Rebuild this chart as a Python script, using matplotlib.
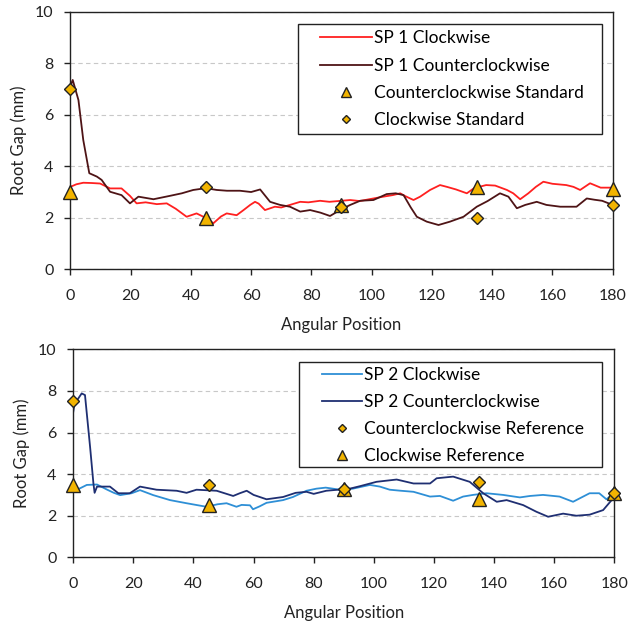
import numpy as np
import matplotlib
matplotlib.use("Agg")
from matplotlib import pyplot as plt
from matplotlib.patches import Rectangle

plt.rcParams['font.family'] = ['Lato', 'DejaVu Sans']

# ---- SP 1 (top panel) ----
sp1_cw_x = [0, 2, 4.3, 7, 9.9, 13.2, 17, 19.8, 22, 25, 28.7, 32, 35, 38.6, 41.9, 44, 47.5, 50,
            51.9, 55.2, 57.5, 59.7, 61.3, 62.5, 64.6, 67.9, 70, 72.9, 76.3, 79, 82.9, 86, 89,
            92.9, 96, 100.6, 103.9, 107, 109.5, 111, 113.9, 116.1, 119.4, 122.7, 125, 128,
            131.6, 134, 138, 141, 144.9, 147, 149.3, 152, 154.5, 157, 160, 164.6, 167, 169.2,
            172.5, 176, 180]
sp1_cw_y = [3.2, 3.3, 3.36, 3.35, 3.33, 3.14, 3.14, 2.85, 2.56, 2.6, 2.53, 2.56, 2.35, 2.04, 2.17,
            2.05, 1.79, 2.05, 2.17, 2.1, 2.3, 2.5, 2.62, 2.55, 2.3, 2.43, 2.4, 2.5, 2.62, 2.6,
            2.66, 2.62, 2.65, 2.69, 2.65, 2.75, 2.82, 2.88, 2.95, 2.85, 2.69, 2.82, 3.08, 3.27,
            3.2, 3.1, 2.95, 3.15, 3.27, 3.25, 3.08, 2.95, 2.72, 2.95, 3.2, 3.4, 3.32, 3.27, 3.2,
            3.08, 3.34, 3.17, 3.17]

sp1_ccw_x = [0, 0.8, 2.7, 4.3, 6.3, 8.8, 10.4, 13.2, 17, 19.8, 22.6, 27.6, 33, 37, 40.8, 45,
             48.6, 52, 56.3, 60, 63, 66.3, 69.6, 72.9, 76.3, 79.6, 83, 86.2, 89.5, 92.9, 96.2,
             100.6, 105, 108, 110.6, 113, 115, 118.3, 122.2, 126, 130.5, 134.9, 138.5, 142.6,
             145.4, 148.2, 151, 154.8, 158, 162.6, 168, 171.4, 174, 176.5, 180]
sp1_ccw_y = [7.1, 7.35, 6.57, 5.02, 3.73, 3.6, 3.47, 3.01, 2.88, 2.56, 2.82, 2.72, 2.85, 2.95,
             3.08, 3.15, 3.08, 3.05, 3.05, 3.0, 3.1, 2.62, 2.5, 2.43, 2.24, 2.3, 2.2, 2.07, 2.3,
             2.5, 2.66, 2.69, 2.92, 2.95, 2.88, 2.4, 2.04, 1.85, 1.72, 1.85, 2.04, 2.43, 2.65,
             2.95, 2.82, 2.37, 2.5, 2.62, 2.5, 2.43, 2.43, 2.75, 2.7, 2.66, 2.5]

sp1_std_x = [0, 45, 90, 135, 180]
sp1_ccw_std = [3.0, 2.0, 2.5, 3.2, 3.1]   # triangles
sp1_cw_std = [7.0, 3.2, 2.4, 2.0, 2.5]    # diamonds

# ---- SP 2 (bottom panel) ----
sp2_cw_x = [0, 2, 4.5, 7.9, 11.3, 13.5, 15.6, 19.4, 22.2, 26.6, 32.2, 37.7, 44.3, 48, 51, 54.3,
            56, 58.8, 59.8, 62, 64.3, 69.8, 73.1, 77.6, 80.9, 84, 88.7, 93, 98.7, 102, 105.3,
            109, 113.2, 118.7, 122, 126.4, 129.7, 133, 137.5, 143, 148.6, 152, 156.3, 161.8,
            166.3, 171.8, 175, 177.4, 180]
sp2_cw_y = [3.23, 3.3, 3.48, 3.5, 3.25, 3.1, 2.99, 3.08, 3.23, 2.99, 2.75, 2.6, 2.43, 2.55, 2.6,
            2.43, 2.52, 2.5, 2.31, 2.45, 2.62, 2.75, 2.9, 3.2, 3.3, 3.35, 3.25, 3.3, 3.48, 3.4,
            3.25, 3.2, 3.15, 2.92, 2.95, 2.72, 2.92, 3.0, 3.08, 3.0, 2.88, 2.95, 3.0, 2.92,
            2.67, 3.08, 3.08, 2.79, 3.1]

sp2_ccw_x = [0, 0.5, 1.5, 2.8, 3.9, 5.6, 6.7, 7.1, 7.9, 12.2, 15, 18.8, 22.2, 27.7, 34.4, 37.7,
             41, 47.7, 53.2, 55.4, 57.7, 60, 64.3, 69.8, 74, 77.6, 80, 84.2, 92, 95.4, 100.9,
             107.6, 113.2, 118.7, 120.9, 126.4, 131.9, 136.4, 140.9, 144.2, 149.7, 154.1, 158,
             163, 167.4, 171.8, 176.3, 179.6, 180]
sp2_ccw_y = [7.0, 7.45, 7.6, 7.88, 7.8, 5.3, 3.56, 3.1, 3.4, 3.4, 3.08, 3.08, 3.4, 3.25, 3.2,
             3.1, 3.25, 3.2, 2.95, 3.08, 3.2, 3.0, 2.79, 2.9, 3.1, 3.15, 3.05, 3.2, 3.3, 3.42,
             3.63, 3.74, 3.55, 3.55, 3.8, 3.88, 3.63, 3.08, 2.67, 2.75, 2.51, 2.19, 1.95, 2.1,
             2.0, 2.05, 2.27, 2.83, 3.0]

sp2_ref_x = [0, 45, 90, 135, 180]
sp2_ccw_ref = [7.5, 3.5, 3.3, 3.6, 3.1]   # diamonds
sp2_cw_ref = [3.5, 2.5, 3.3, 2.8, 3.1]    # triangles

gold = '#F2B400'
ink = '#222222'

fig = plt.figure(figsize=(6.3, 6.25), dpi=100)
ax1 = fig.add_axes([0.1116, 0.5691, 0.8609, 0.4122])
ax2 = fig.add_axes([0.1163, 0.1083, 0.8587, 0.3328])


def style_axes(ax):
    ax.set_xlim(0, 180)
    ax.set_ylim(0, 10)
    ax.set_xticks(np.arange(0, 181, 20))
    ax.set_yticks(np.arange(0, 11, 2))
    ax.yaxis.grid(True, color='#C8C8C8', linestyle=(0, (4, 3)), linewidth=0.8)
    ax.set_axisbelow(True)
    for s in ax.spines.values():
        s.set_color(ink)
        s.set_linewidth(1.0)
    ax.tick_params(direction='out', length=4, width=1, color=ink,
                   labelsize=11.5, labelcolor=ink)
    ax.tick_params(axis='x', pad=10)
    ax.tick_params(axis='y', pad=8)
    ax.set_xlabel('Angular Position', fontsize=12, color=ink, labelpad=10)
    ax.set_ylabel('Root Gap (mm)', fontsize=12, color=ink, labelpad=6)


def boxed_legend(ax, box, anchor, spacing, hlen):
    # frame drawn separately so its padding can match the original
    ax.add_patch(Rectangle(box[:2], box[2], box[3], transform=ax.transAxes,
                           facecolor='white', edgecolor=ink, lw=1.0, zorder=8))
    leg = ax.legend(loc='upper left', bbox_to_anchor=anchor, fontsize=12.5, frameon=False,
                    handlelength=hlen, labelspacing=spacing, borderpad=0, borderaxespad=0,
                    handletextpad=0.1, markerscale=0.75)
    leg.set_zorder(9)
    return leg


style_axes(ax1)
ax1.plot(sp1_cw_x, sp1_cw_y, color='#FF2020', lw=1.3, label='SP 1 Clockwise')
ax1.plot(sp1_ccw_x, sp1_ccw_y, color='#4E1416', lw=1.3, label='SP 1 Counterclockwise')
ax1.plot(sp1_std_x, sp1_ccw_std, ls='none', marker='^', ms=10, mfc=gold, mec=ink,
         mew=1.0, clip_on=False, zorder=5, label='Counterclockwise Standard')
ax1.plot(sp1_std_x, sp1_cw_std, ls='none', marker='D', ms=6, mfc=gold, mec=ink,
         mew=1.0, clip_on=False, zorder=6, label='Clockwise Standard')
boxed_legend(ax1, (0.419, 0.525, 0.561, 0.427), (0.4604, 0.927), 0.65, 3.0)

style_axes(ax2)
ax2.plot(sp2_cw_x, sp2_cw_y, color='#2E8FD6', lw=1.3, label='SP 2 Clockwise')
ax2.plot(sp2_ccw_x, sp2_ccw_y, color='#1F2F72', lw=1.3, label='SP 2 Counterclockwise')
ax2.plot(sp2_ref_x, sp2_ccw_ref, ls='none', marker='D', ms=6, mfc=gold, mec=ink,
         mew=1.0, clip_on=False, zorder=6, label='Counterclockwise Reference')
ax2.plot(sp2_ref_x, sp2_cw_ref, ls='none', marker='^', ms=10, mfc=gold, mec=ink,
         mew=1.0, clip_on=False, zorder=5, label='Clockwise Reference')
boxed_legend(ax2, (0.417, 0.434, 0.560, 0.505), (0.4597, 0.915), 0.64, 2.3)

fig.savefig('out.png', dpi=100)
